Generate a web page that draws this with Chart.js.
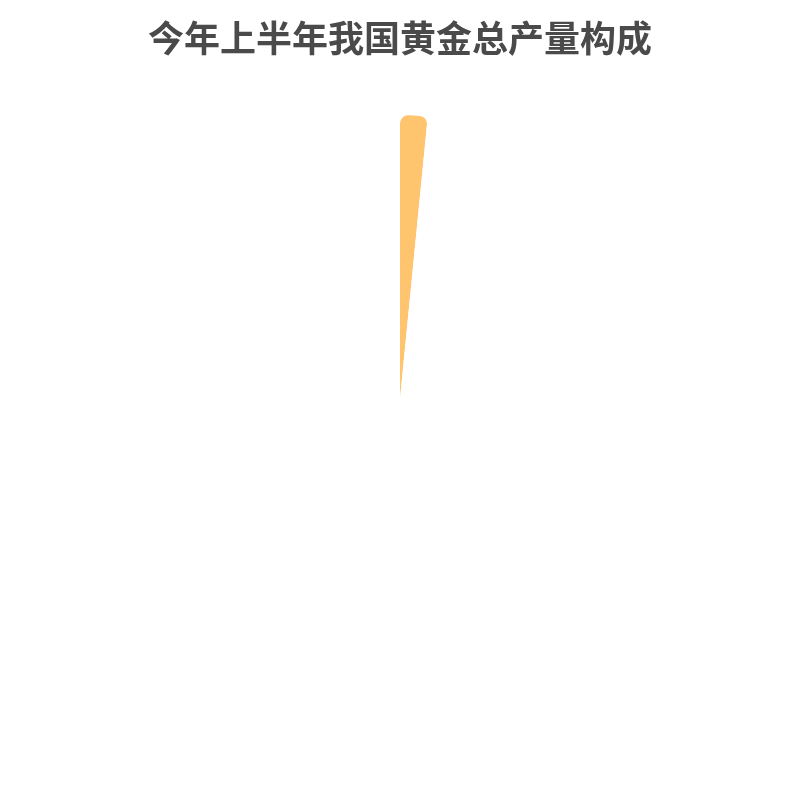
<!DOCTYPE html>
<html>
<head>
<meta charset="utf-8">
<script src="https://cdn.jsdelivr.net/npm/chart.js@4/dist/chart.umd.min.js"></script>
<style>
html,body{margin:0;padding:0;background:#fff;}
#wrap{width:800px;height:800px;}
</style>
</head>
<body>
<div id="wrap"><canvas id="c" width="800" height="800"></canvas></div>
<script>
const titleText = '今年上半年我国黄金总产量构成';
const categories = ['其他', '其余部分'];
const shareValues = [1.56, 98.44];
const sliceColors = ['#FFC46E', '#FFFFFF'];

new Chart(document.getElementById('c'), {
  type: 'pie',
  data: {
    labels: categories,
    datasets: [{
      data: shareValues,
      backgroundColor: sliceColors,
      borderColor: '#FFFFFF',
      borderWidth: 0,
      borderRadius: 8
    }]
  },
  options: {
    responsive: false,
    animation: false,
    layout: { padding: { top: 0, bottom: 117, left: 0, right: 0 } },
    plugins: {
      legend: { display: false },
      tooltip: { enabled: false },
      title: {
        display: true,
        text: titleText,
        color: '#4a4a4a',
        font: { family: '"Noto Sans CJK SC", "Noto Sans", sans-serif', size: 36, weight: 'bold' },
        padding: { top: 17, bottom: 55 }
      }
    }
  }
});
</script>
</body>
</html>
